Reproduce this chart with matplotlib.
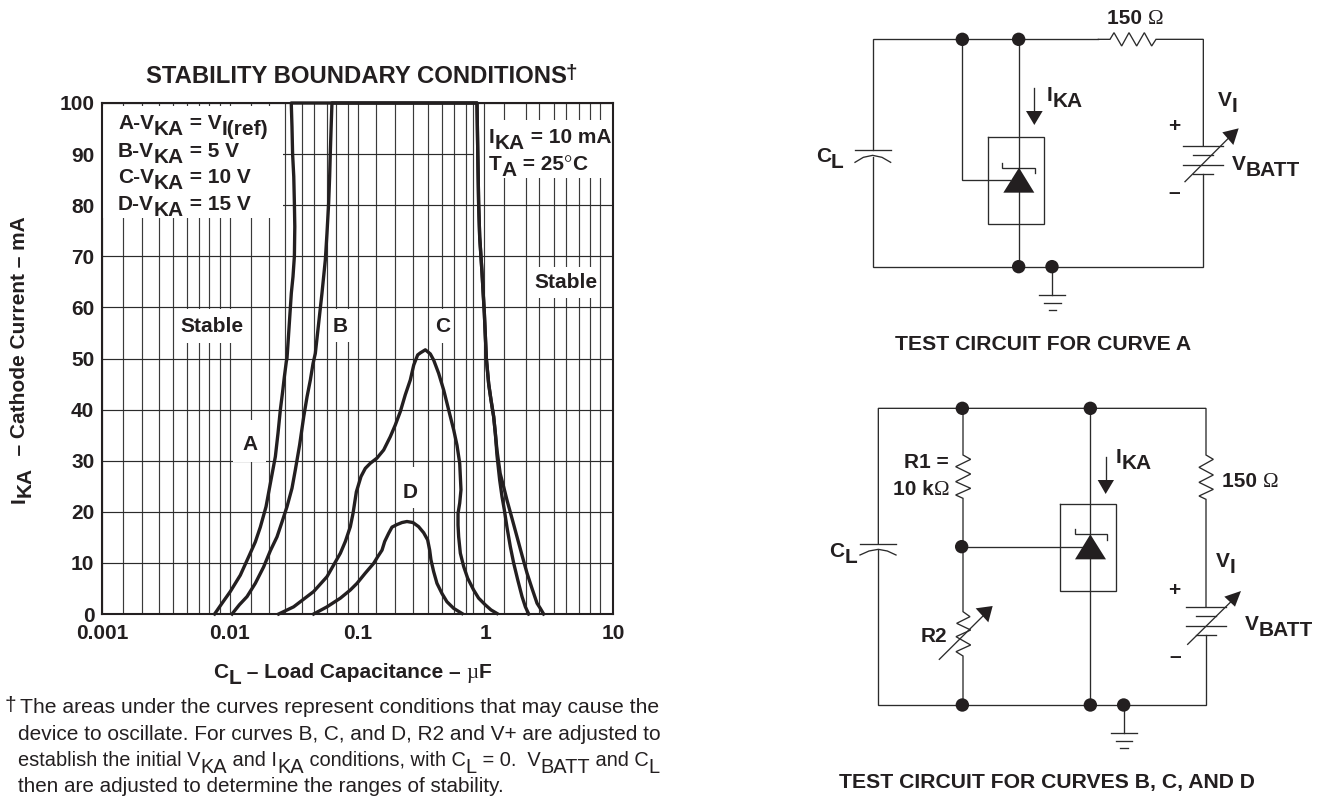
import matplotlib
matplotlib.use('Agg')
import matplotlib.pyplot as plt
from matplotlib.patches import Rectangle, Polygon, Circle
from matplotlib.font_manager import FontProperties

W, H = 1325, 798
INK = '#231f20'
WIRE = '#2b2b2b'
FS = 15

# chart values
X_TICKS = [0.001, 0.01, 0.1, 1, 10]
X_TICK_LABELS = ['0.001', '0.01', '0.1', '1', '10']
Y_TICKS = [0, 10, 20, 30, 40, 50, 60, 70, 80, 90, 100]

# the printed grid is not a true log grid, so these are the lines as drawn
GRID_X = [0.001, 0.001468, 0.002045, 0.002794, 0.003615, 0.004652, 0.005775, 0.006879, 0.008388,
          0.01, 0.01459, 0.02029, 0.02705, 0.03656, 0.04564, 0.05741, 0.06792, 0.08356,
          0.1, 0.1396, 0.1967, 0.2704, 0.3548, 0.4613, 0.5689, 0.7063, 0.8054,
          0.98, 1.403, 2.084, 2.636, 3.436, 4.31, 5.45, 6.607, 7.907, 10]

A_X = [0.00761, 0.0087, 0.0101, 0.0121, 0.01406, 0.01585, 0.01735, 0.01923, 0.0208, 0.02275, 0.02387, 0.0249,
       0.02594, 0.02675, 0.02773, 0.02806, 0.02927, 0.03034, 0.03126, 0.03206, 0.0323, 0.03206, 0.0317,
       0.03105, 0.0307, 0.0303, 0.8616, 0.874, 0.8875, 0.9046, 0.944, 0.984, 1.02, 1.064, 1.109, 1.164, 1.2,
       1.236, 1.309, 1.393, 1.479, 1.62, 1.773, 1.94, 2.123, 2.323, 2.543, 2.698, 2.864]
A_Y = [0, 2.1, 4.4, 7.6, 11.2, 14.1, 17, 21, 25.6, 30.8, 35.4, 40,
       43.5, 46.4, 49.4, 50, 56.9, 62.8, 66, 70, 75.8, 80.4, 85.6,
       90, 95.4, 100, 100, 90.2, 80.4, 73.8, 66.7, 58.8, 50, 45, 41.9, 38.6, 35.3,
       32, 27.5, 24.9, 22.3, 18.7, 15.1, 11.5, 8, 5, 2.1, 1.1, 0]
B_X = [0.01042, 0.01189, 0.01365, 0.01585, 0.01841, 0.0208, 0.02344, 0.02564, 0.02806, 0.0307, 0.03261, 0.03524,
       0.03793, 0.04027, 0.04275, 0.04486, 0.04676, 0.04966, 0.05272, 0.056, 0.05768, 0.05945, 0.06053,
       0.06125, 0.0622, 0.0631, 0.8616, 0.874, 0.8875, 0.9046, 0.944, 0.984, 1.02, 1.064, 1.109, 1.164, 1.2,
       1.236, 1.297, 1.352, 1.41, 1.479, 1.571, 1.671, 1.795, 1.941, 2.061, 2.188]
B_Y = [0, 1.8, 3.4, 6, 9.2, 12.4, 15.1, 18, 21, 24.6, 28.2, 33.1,
       38.6, 42.5, 45.8, 49, 51, 56.9, 62.8, 69.3, 74.5, 80.4, 85.6,
       90.2, 95.4, 100, 100, 90.2, 80.4, 73.8, 66.7, 58.8, 50, 45, 41.9, 38.6, 35.3,
       31, 26.2, 23, 20.4, 17, 13.2, 9.9, 6.7, 3.4, 1.4, 0]
C_X = [0.02415, 0.03162, 0.04539, 0.05768, 0.07345, 0.08035, 0.0879, 0.09226, 0.09795, 0.1065, 0.1151, 0.126,
       0.1419, 0.1603, 0.1806, 0.1977, 0.2163, 0.2366, 0.259, 0.2754, 0.2958, 0.3105, 0.3396, 0.3715, 0.3945,
       0.4317, 0.4732, 0.5175, 0.5666, 0.6012, 0.631, 0.6383, 0.6457, 0.631, 0.6122, 0.6122, 0.6193, 0.6383,
       0.6776, 0.7286, 0.811, 0.8875, 1.0, 1.109, 1.236]
C_Y = [0, 1.4, 4.4, 7.3, 11.9, 14.2, 17.1, 19.7, 23.9, 26.9, 28.5, 29.5,
       30.5, 32.1, 34.7, 37, 39.6, 42.9, 45.8, 48.7, 50.7, 51.1, 51.7, 50.9, 49.7,
       47.1, 43.8, 39.9, 36, 33, 29.5, 26.9, 24.3, 21.7, 19.7, 17.4, 15.1, 11.9,
       9.3, 7, 4.7, 3.1, 1.8, 0.8, 0.1]
D_X = [0.04539, 0.05768, 0.07345, 0.0879, 0.0991, 0.1151, 0.1337, 0.1439, 0.1556, 0.1633, 0.1754, 0.1862, 0.2037,
       0.223, 0.2438, 0.2717, 0.3006, 0.3296, 0.354, 0.3673, 0.3758, 0.3945, 0.4188, 0.4586, 0.5012, 0.5662, 0.6577]
D_Y = [0, 1.4, 3.1, 4.7, 6, 8, 9.9, 11.2, 12.5, 14.2, 15.8, 17, 17.5,
       17.9, 18.1, 17.9, 17.1, 15.9, 14.5, 12.5, 10.6, 8.3, 6, 4, 2.4, 1.1, 0.1]

LEGEND_LINES = [
    (129, [('A-V', 0), ('KA', 6), (' = V', 0), ('I(ref)', 6)]),
    (157, [('B-V', 0), ('KA', 6), (' = 5 V', 0)]),
    (183, [('C-V', 0), ('KA', 6), (' = 10 V', 0)]),
    (210, [('D-V', 0), ('KA', 6), (' = 15 V', 0)]),
]
# white patches behind the labels, in pixels (x0, y0, x1, y1)
CUTOUTS = [(103, 106, 283, 218), (487, 120, 612, 178), (177, 309, 247, 343), (330, 309, 352, 342),
           (432, 309, 452, 343), (233, 420, 266, 462), (402, 467, 425, 508), (533, 267, 596, 298)]
CURVE_LABELS = [('Stable', 212, 327), ('B', 340, 327), ('C', 442.7, 327), ('A', 250, 445),
                ('D', 410, 492.7), ('Stable', 566, 282.7)]

plt.rcParams['font.family'] = ['Liberation Sans', 'DejaVu Sans']

fig = plt.figure(figsize=(W / 100, H / 100), dpi=100)
L, T, R, B = 102, 103, 613, 614
ax = fig.add_axes([L / W, 1 - B / H, (R - L) / W, (B - T) / H], zorder=2)
ov = fig.add_axes([0, 0, 1, 1], zorder=5)
ov.set_xlim(0, W)
ov.set_ylim(H, 0)
ov.axis('off')
renderer = fig.canvas.get_renderer()

bold = FontProperties(family='Liberation Sans', weight='bold')
regular = FontProperties(family='Liberation Sans')
serif = FontProperties(family='Liberation Serif')


def adv(s, fp, size):
    # width of a piece with its spaces, the bar is only there to keep them
    t = ov.text(0, 0, s + '|', fontproperties=fp, fontsize=size)
    a = t.get_window_extent(renderer).width
    t.set_text('|')
    b = t.get_window_extent(renderer).width
    t.remove()
    return a - b


def seq(x, y, parts, size=FS, fp=bold, rot=0):
    # text in pieces, each piece is (string, drop in pixels[, font])
    for p in parts:
        f = p[2] if len(p) > 2 else fp
        if rot == 90:
            ov.text(x + p[1], y, p[0], fontproperties=f, fontsize=size, color=INK, rotation=90,
                    ha='left', va='baseline', rotation_mode='anchor')
            y -= adv(p[0], f, size)
        else:
            ov.text(x, y + p[1], p[0], fontproperties=f, fontsize=size, color=INK, va='baseline')
            x += adv(p[0], f, size)


# chart
ax.set_xscale('log')
ax.set_xlim(0.001, 10)
ax.set_ylim(0, 100)
ax.vlines(GRID_X, 0, 100, color='#3a3a3a', lw=0.85, zorder=1)
for v in Y_TICKS:
    # line at 90 stops before the right hand note
    ax.hlines(v, 0.001, 0.8054 if v == 90 else 10, color='#2b2b2b', lw=0.85, zorder=1)
for c in CUTOUTS:
    ax.add_patch(Rectangle((c[0], c[1]), c[2] - c[0], c[3] - c[1], transform=ov.transData,
                           fc='white', ec='none', zorder=2))
for xs, ys in [(A_X, A_Y), (B_X, B_Y), (C_X, C_Y), (D_X, D_Y)]:
    ax.plot(xs, ys, color=INK, lw=2.4, zorder=3, clip_on=False, solid_joinstyle='round')

ax.set_xticks(X_TICKS)
ax.set_xticklabels(X_TICK_LABELS, fontproperties=bold, fontsize=FS, color=INK)
ax.set_xticks([], minor=True)
ax.set_yticks(Y_TICKS)
ax.set_yticklabels([str(v) for v in Y_TICKS], fontproperties=bold, fontsize=FS, color=INK)
ax.tick_params(axis='both', which='both', length=0)
ax.tick_params(axis='x', pad=7.5)
ax.tick_params(axis='y', pad=5.5)
for s in ax.spines.values():
    s.set_linewidth(1.5)
    s.set_color(INK)

seq(146, 83, [('STABILITY BOUNDARY CONDITIONS', 0)], size=17.2)
seq(566, 79, [('†', 0)], size=15)
for y, parts in LEGEND_LINES:
    seq(118, y, parts)
seq(489, 143, [('I', 0), ('KA', 6), (' = 10 mA', 0)])
seq(489, 170, [('T', 0), ('A', 6), (' = 25', 0), ('°', 0, serif), ('C', 0)])
for s, x, y in CURVE_LABELS:
    ov.text(x, y, s, fontproperties=bold, fontsize=FS, color=INK, ha='center', va='center')

seq(25, 503, [('I', 0), ('KA', 6), ('  – Cathode Current – mA', 0)], rot=90)
seq(213, 678, [('C', 0), ('L', 6), (' – Load Capacitance – ', 0), ('µ', 0, serif), ('F', 0)])

seq(5, 711, [('†', 0)], size=15, fp=regular)
seq(20, 713, [('The areas under the curves represent conditions that may cause the', 0)], size=15.2, fp=regular)
seq(18, 740, [('device to oscillate. For curves B, C, and D, R2 and V+ are adjusted to', 0)], fp=regular)
# this line is set tighter in the original
seq(18, 766, [('establish the initial V', 0), ('KA', 7), (' and I', 0), ('KA', 7), (' conditions, with C', 0), ('L', 7),
              (' = 0.  V', 0), ('BATT', 7), (' and C', 0), ('L', 7)], size=14.4, fp=regular)
seq(18, 792, [('then are adjusted to determine the ranges of stability.', 0)], size=14.9, fp=regular)


# schematics, drawn in the 3x coordinates of the crops
def c1(p):
    return 800 + p[0] / 3, p[1] / 3


def c2(p):
    return 800 + p[0] / 3, 390 + p[1] / 3


def wire(conv, pts, lw=0.95):
    xy = [conv(p) for p in pts]
    ov.plot([q[0] for q in xy], [q[1] for q in xy], color=WIRE, lw=lw, solid_joinstyle='miter')


def solid(conv, pts):
    ov.add_patch(Polygon([conv(p) for p in pts], closed=True, fc=INK, ec='none', zorder=3))


def node(conv, p):
    ov.add_patch(Circle(conv(p), 6.7, fc=INK, ec='none', zorder=3))


# curve A circuit
for pts in [[(218, 450), (218, 118), (895, 118)],
            [(895, 118), (930, 118), (942, 98), (965, 138), (987, 98), (1010, 138), (1033, 98), (1055, 138), (1068, 118), (1210, 118), (1210, 437)],
            [(1210, 522), (1210, 800), (218, 800), (218, 470)],
            [(487, 118), (487, 541), (630, 541)],
            [(656, 118), (656, 800)],
            [(565, 411), (733, 411), (733, 673), (565, 673), (565, 411)],
            [(607, 488), (607, 503), (705, 503), (705, 520)],
            [(703, 265), (703, 340)],
            [(165, 450), (272, 450)],
            [(165, 487), (190, 472), (218, 466), (246, 472), (272, 487)],
            [(1150, 437), (1268, 437)], [(1180, 465), (1240, 465)], [(1150, 494), (1270, 494)], [(1180, 522), (1240, 522)],
            [(1155, 545), (1285, 415)],
            [(756, 800), (756, 885)], [(718, 885), (795, 885)], [(733, 908), (782, 908)], [(748, 930), (768, 930)]]:
    wire(c1, pts)
solid(c1, [(610, 578), (703, 578), (657, 503)])
solid(c1, [(678, 333), (728, 333), (703, 375)])
solid(c1, [(1267, 397), (1316, 385), (1300, 435)])
for p in [(487, 118), (656, 118), (656, 800), (756, 800)]:
    node(c1, p)

seq(1107, 24, [('150 ', 0), ('Ω', 0, serif)])
seq(1047, 101, [('I', 0), ('KA', 6)])
seq(1218, 106, [('V', 0), ('I', 6)])
seq(816, 162, [('C', 0), ('L', 6)])
seq(1232, 170, [('V', 0), ('BATT', 6)])
ov.text(1174, 127, '+', fontproperties=bold, fontsize=FS, color=INK, ha='center', va='center')
ov.text(1174, 193, '–', fontproperties=bold, fontsize=FS, color=INK, ha='center', va='center')
ov.text(1043, 350, 'TEST CIRCUIT FOR CURVE A', fontproperties=bold, fontsize=15.2, color=INK, ha='center', va='baseline')

# curves B, C, D circuit
for pts in [[(235, 460), (235, 55), (1218, 55), (1218, 195), (1240, 208), (1197, 232), (1240, 255), (1197, 277), (1240, 298), (1197, 318), (1218, 328), (1218, 650)],
            [(1218, 735), (1218, 945), (235, 945), (235, 480)],
            [(180, 462), (288, 462)],
            [(180, 495), (207, 483), (235, 478), (262, 483), (288, 495)],
            [(489, 55), (489, 195), (512, 208), (467, 230), (512, 252), (467, 275), (512, 295), (467, 315), (489, 325), (489, 665), (510, 680), (470, 700), (512, 720), (468, 740), (512, 765), (468, 785), (489, 798), (489, 945)],
            [(418, 808), (555, 672)],
            [(871, 55), (871, 945)],
            [(779, 342), (949, 342), (949, 603), (779, 603), (779, 342)],
            [(825, 418), (825, 432), (921, 432), (921, 450)],
            [(485, 472), (845, 472)],
            [(917, 202), (917, 275)],
            [(1157, 650), (1278, 650)], [(1188, 677), (1248, 677)], [(1157, 707), (1278, 707)], [(1188, 735), (1248, 735)],
            [(1163, 763), (1295, 633)],
            [(971, 945), (971, 1030)], [(933, 1030), (1010, 1030)], [(948, 1052), (997, 1052)], [(960, 1075), (985, 1075)]]:
    wire(c2, pts)
solid(c2, [(825, 508), (918, 508), (871, 433)])
solid(c2, [(893, 270), (942, 270), (917, 312)])
solid(c2, [(527, 655), (578, 648), (565, 697)])
solid(c2, [(1273, 620), (1323, 603), (1305, 650)])
for p in [(487, 55), (871, 55), (485, 470), (487, 945), (871, 945), (971, 945)]:
    node(c2, p)

seq(904, 468, [('R1 =', 0)])
seq(893, 495, [('10 k', 0), ('Ω', 0, serif)])
seq(1116, 463, [('I', 0), ('KA', 6)])
seq(1222, 487, [('150 ', 0), ('Ω', 0, serif)])
seq(829, 557, [('C', 0), ('L', 6)])
seq(921, 642, [('R2', 0)])
seq(1216, 567, [('V', 0), ('I', 6)])
seq(1245, 630, [('V', 0), ('BATT', 6)])
ov.text(1174, 591, '+', fontproperties=bold, fontsize=FS, color=INK, ha='center', va='center')
ov.text(1175, 656, '–', fontproperties=bold, fontsize=FS, color=INK, ha='center', va='center')
ov.text(1047, 788, 'TEST CIRCUIT FOR CURVES B, C, AND D', fontproperties=bold, fontsize=15.2, color=INK, ha='center', va='baseline')

fig.savefig('out.png', dpi=100, facecolor='white')
